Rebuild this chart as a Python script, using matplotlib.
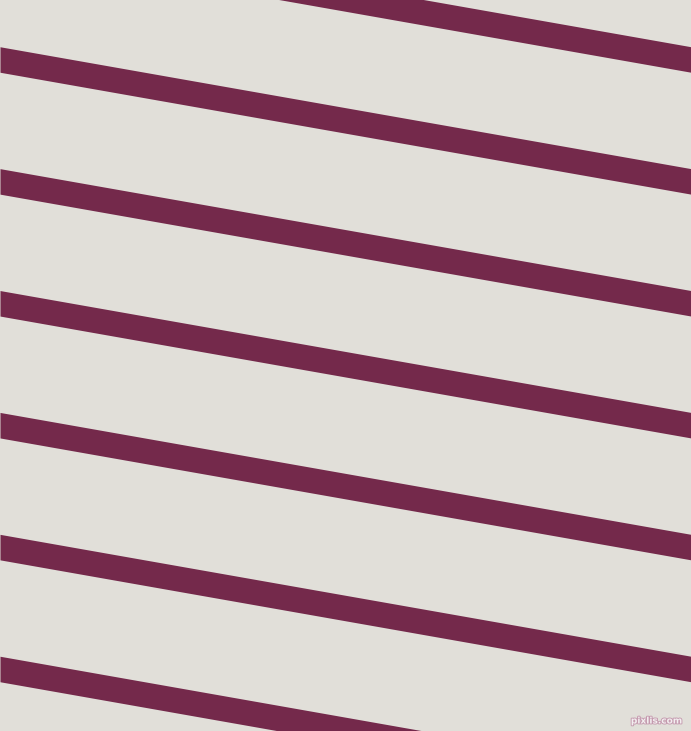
import numpy as np
import matplotlib
matplotlib.use("Agg")
import matplotlib.pyplot as plt
import matplotlib.patheffects as pe

# stripe centre lines, y at the left edge (px), all with the same slope
stripe_left_y = [-62.4, 59.5, 181.4, 303.3, 425.2, 547.1, 669.0]
stripe_slope = 0.1764          # drop per pixel of x (about 10 degrees)
stripe_height = 25.5           # vertical thickness of a stripe, px

width, height = 691, 731
bg_color = '#e1dfd9'
stripe_color = '#74294b'

fig = plt.figure(figsize=(width / 100, height / 100), dpi=100)
fig.patch.set_facecolor(bg_color)
ax = fig.add_axes([0, 0, 1, 1])
ax.set_facecolor(bg_color)
ax.set_xlim(0, width)
ax.set_ylim(height, 0)
ax.axis('off')

x = np.array([0, width])
for y0 in stripe_left_y:
    yc = y0 + stripe_slope * x
    ax.fill_between(x, yc - stripe_height / 2, yc + stripe_height / 2,
                    color=stripe_color, linewidth=0)

ax.text(682, 721, "pixlis.com", ha='right', va='center', fontsize=6.5,
        color='#f3eef0', fontweight='bold',
        path_effects=[pe.withStroke(linewidth=1.3, foreground='#c49aae')])

fig.savefig("out.png", dpi=100, facecolor=bg_color)
